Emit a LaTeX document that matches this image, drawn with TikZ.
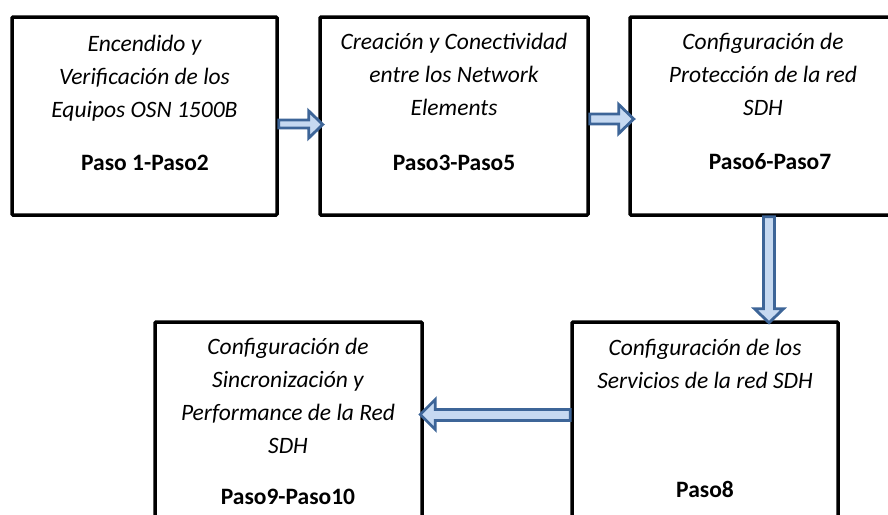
\documentclass[tikz,border=0pt]{standalone}
\usepackage{fontspec}
\setmainfont{Carlito}
\usetikzlibrary{calc}
\definecolor{arrfill}{HTML}{C6D9F1}
\definecolor{arrline}{HTML}{3D6598}
\tikzset{
  box/.style={draw=black, line width=3.5pt, fill=white, rectangle, rounded corners=1pt, inner sep=0pt},
  lbl/.style={font=\fontsize{23.5}{28}\selectfont\itshape, inner sep=0pt, anchor=base},
  pas/.style={font=\fontsize{23.5}{28}\selectfont\bfseries, inner sep=0pt, anchor=base},
  barrow/.style={draw=arrline, fill=arrfill, line width=2.8pt, line join=miter}
}
\begin{document}
\begin{tikzpicture}[x=1pt,y=-1pt]
\useasboundingbox (0,0) rectangle (888,514);
\clip (0,0) rectangle (888,514);
\fill[white] (0,0) rectangle (888,514);
% boxes
\node[box, minimum width=265pt, minimum height=198pt] (b1) at (144.5,116) {};
\node[box, minimum width=268pt, minimum height=198pt] (b2) at (454,116) {};
\node[box, minimum width=266pt, minimum height=198pt] (b3) at (763,116) {};
\node[box, minimum width=267pt, minimum height=200pt] (b4) at (288.5,422) {};
\node[box, minimum width=266pt, minimum height=200pt] (b5) at (705,422) {};
% box 1 text
\node[lbl] (t1a) at (144.5,51) {Encendido y};
\node[lbl] (t1b) at (144.5,84) {Verificación de los};
\node[lbl] (t1c) at (144.5,117) {Equipos OSN 1500B};
\node[pas] (p1) at (145,170) {Paso 1-Paso2};
% box 2 text
\node[lbl] (t2a) at (454,49) {Creación y Conectividad};
\node[lbl] (t2b) at (454,82) {entre los Network};
\node[lbl] (t2c) at (454,115) {Elements};
\node[pas] (p2) at (454,170) {Paso3-Paso5};
% box 3 text
\node[lbl] (t3a) at (763,49) {Configuración de};
\node[lbl] (t3b) at (763,82) {Protección de la red};
\node[lbl] (t3c) at (763,115) {SDH};
\node[pas] (p3) at (770,169) {Paso6-Paso7};
% box 4 text
\node[lbl] (t4a) at (288,354) {Configuración de};
\node[lbl] (t4b) at (288,387) {Sincronización y};
\node[lbl] (t4c) at (288,420) {Performance de la Red};
\node[lbl] (t4d) at (288,453) {SDH};
\node[pas] (p4) at (288,504) {Paso9-Paso10};
% box 5 text
\node[lbl] (t5a) at (705,355) {Configuración de los};
\node[lbl] (t5b) at (705,388) {Servicios de la red SDH};
\node[pas] (p5) at (705,497) {Paso8};
% block arrows
\draw[barrow] ($(b1.east)+(0,4)$) -- ++(30,0) -- ++(0,-9) -- ++(14,13.5) -- ++(-14,13.5) -- ++(0,-10) -- ++(-30,0) -- cycle;
\draw[barrow] ($(b2.east)+(0,-2)$) -- ++(29,0) -- ++(0,-9.5) -- ++(15,14.5) -- ++(-15,14.5) -- ++(0,-9.5) -- ++(-29,0) -- cycle;
\draw[barrow] ($(b3.south)+(0.5,0)$) -- ++(0,92) -- ++(-9,0) -- ++(14.5,14) -- ++(14.5,-14) -- ++(-9,0) -- ++(0,-92) -- cycle;
\draw[barrow] ($(b5.west)+(0,-12.5)$) -- ++(-135,0) -- ++(0,-10) -- ++(-15,15) -- ++(15,15) -- ++(0,-9) -- ++(135,0) -- cycle;
\end{tikzpicture}
\end{document}
